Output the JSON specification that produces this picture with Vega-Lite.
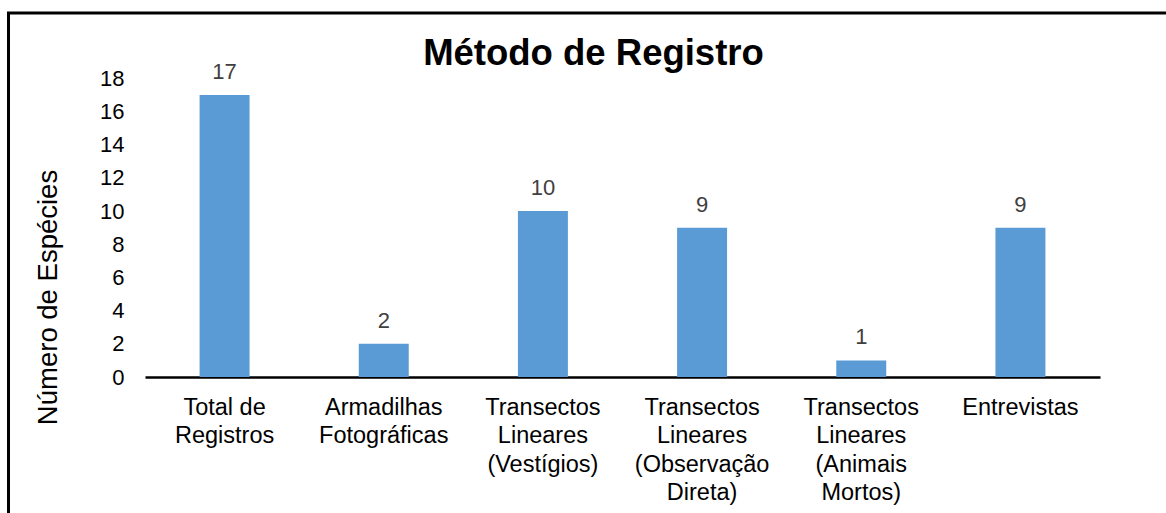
{
  "$schema": "https://vega.github.io/schema/vega-lite/v6.json",
  "width": 1170,
  "height": 510,
  "padding": {"left": 8.5, "top": 13, "right": 0, "bottom": 0},
  "background": "white",
  "title": {
    "text": "Método de Registro",
    "font": "Liberation Sans",
    "fontSize": 36.5,
    "fontWeight": "bold",
    "color": "black",
    "anchor": "middle",
    "baseline": "alphabetic",
    "offset": -88
  },
  "data": {
    "values": [
      {"metodo": "Total de\nRegistros", "especies": 17},
      {"metodo": "Armadilhas\nFotográficas", "especies": 2},
      {"metodo": "Transectos\nLineares\n(Vestígios)", "especies": 10},
      {"metodo": "Transectos\nLineares\n(Observação\nDireta)", "especies": 9},
      {"metodo": "Transectos\nLineares\n(Animais\nMortos)", "especies": 1},
      {"metodo": "Entrevistas", "especies": 9}
    ]
  },
  "encoding": {
    "x": {
      "field": "metodo",
      "type": "nominal",
      "sort": null,
      "scale": {"range": [136.5, 1091.5], "paddingInner": 0.686, "paddingOuter": 0.343},
      "axis": {
        "title": null,
        "orient": "bottom",
        "offset": -146,
        "labelAngle": 0,
        "labelExpr": "split(datum.value, '\\n')",
        "labelFont": "Liberation Sans",
        "labelFontSize": 23.5,
        "labelColor": "black",
        "labelLineHeight": 28.5,
        "labelPadding": 18,
        "labelAlign": "center",
        "ticks": false,
        "domainColor": "black",
        "domainWidth": 2.5,
        "grid": false
      }
    },
    "y": {
      "field": "especies",
      "type": "quantitative",
      "scale": {"domain": [0, 18], "range": [364, 65.4], "nice": false, "zero": true},
      "axis": {
        "title": "Número de Espécies",
        "titleFont": "Liberation Sans",
        "titleFontSize": 27.5,
        "titleFontWeight": "normal",
        "titleColor": "black",
        "titleBaseline": "alphabetic",
        "titleAngle": -90,
        "titleAlign": "center",
        "titleX": -90,
        "titleY": 284,
        "orient": "left",
        "offset": -137.5,
        "values": [0, 2, 4, 6, 8, 10, 12, 14, 16, 18],
        "labelFont": "Liberation Sans",
        "labelFontSize": 22,
        "labelColor": "black",
        "labelPadding": 22,
        "ticks": false,
        "domain": false,
        "grid": false
      }
    }
  },
  "layer": [
    {"mark": {"type": "bar", "color": "#5B9BD5"}},
    {
      "mark": {
        "type": "text",
        "baseline": "alphabetic",
        "dy": -16,
        "font": "Liberation Sans",
        "fontSize": 22,
        "color": "#404040"
      },
      "encoding": {"text": {"field": "especies", "type": "quantitative"}}
    }
  ],
  "config": {
    "view": {"stroke": "black", "strokeWidth": 3, "fill": "white"}
  }
}
